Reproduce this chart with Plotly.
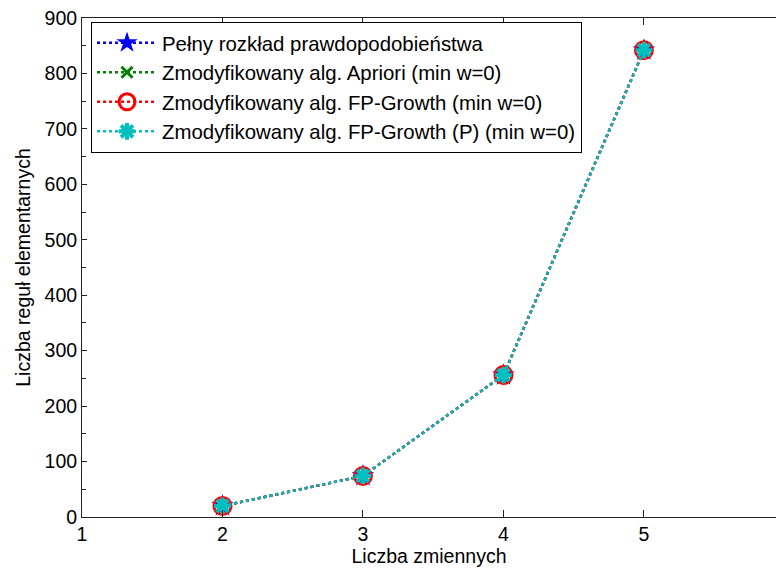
import plotly.graph_objects as go

x_vals = [2, 3, 4, 5]
full_dist = [20, 74, 256, 842]
apriori = [20, 74, 256, 842]
fpgrowth = [20, 74, 256, 842]
fpgrowth_p = [20, 74, 256, 842]

names = [
    "Pełny rozkład prawdopodobieństwa",
    "Zmodyfikowany alg. Apriori (min w=0)",
    "Zmodyfikowany alg. FP-Growth (min w=0)",
    "Zmodyfikowany alg. FP-Growth (P) (min w=0)",
]
x_ticks = [1, 2, 3, 4, 5]

FONT = "Liberation Sans, Arial, sans-serif"
fig = go.Figure()
fig.add_trace(go.Scatter(x=x_vals, y=full_dist, name=names[0], mode="lines+markers",
                         line=dict(color="#0000FF", width=2.5, dash="dot"),
                         marker=dict(symbol="star", size=17, color="#0000FF")))
fig.add_trace(go.Scatter(x=x_vals, y=apriori, name=names[1], mode="lines+markers",
                         line=dict(color="#008000", width=2.5, dash="dot"),
                         marker=dict(symbol="x-thin-open", size=11, color="#008000",
                                     line=dict(color="#008000", width=3))))
fig.add_trace(go.Scatter(x=x_vals, y=fpgrowth, name=names[2], mode="lines+markers",
                         line=dict(color="#FF0000", width=2.5, dash="dot"),
                         marker=dict(symbol="circle-open", size=17, color="#FF0000",
                                     line=dict(color="#FF0000", width=3))))
fig.add_trace(go.Scatter(x=x_vals, y=fpgrowth_p, name=names[3], mode="lines+markers",
                         line=dict(color="#00BFBF", width=2.5, dash="dot"),
                         marker=dict(symbol="asterisk-open", size=14, color="#00BFBF",
                                     line=dict(color="#00BFBF", width=4))))

fig.update_layout(
    width=776, height=571,
    margin=dict(l=82, r=0, t=18, b=54),
    paper_bgcolor="white", plot_bgcolor="white",
    font=dict(family=FONT, size=19.5, color="black"),
    showlegend=True,
    legend=dict(x=0.013, y=0.992, xanchor="left", yanchor="top",
                bgcolor="white", bordercolor="black", borderwidth=1,
                font=dict(size=20.4), itemwidth=60, tracegroupgap=0),
    xaxis=dict(range=[1, 5.94], tickvals=x_ticks, ticks="inside", ticklen=7,
               showgrid=False, zeroline=False, showline=True, linecolor="#222",
               linewidth=1, mirror="ticks", tickcolor="#222",
               tickfont=dict(size=19.5),
               title=dict(text="Liczba zmiennych", standoff=4,
                          font=dict(size=19.5))),
    yaxis=dict(range=[0, 900], dtick=100, ticks="inside", ticklen=5,
               showgrid=False, zeroline=False, showline=True, linecolor="#222",
               linewidth=1, mirror=False, tickcolor="#222",
               tickfont=dict(size=19.5),
               minor=dict(dtick=50, ticks="inside", ticklen=4, tickcolor="#222"),
               title=dict(text="Liczba reguł elementarnych", standoff=8,
                          font=dict(size=19.5))),
)
fig.write_html("out.html")
